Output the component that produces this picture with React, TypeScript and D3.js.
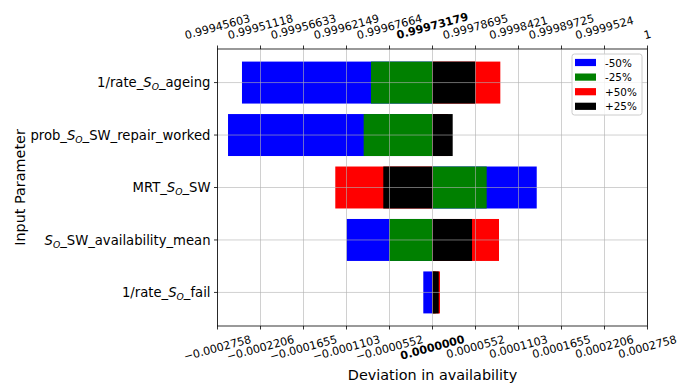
import React from "react";
import * as d3 from "d3";

// Categories from top to bottom: [text before S_O, text after S_O]
const categoryPre = ["1/rate_", "prob_", "MRT_", "", "1/rate_"];
const categoryPost = ["_ageing", "_SW_repair_worked", "_SW", "_SW_availability_mean", "_fail"];

// Deviations in availability per scenario (same order as categories)
const minus50 = [-0.0002444, -0.0002623, 0.0001337, -0.0001101, -0.0000118];
const minus25 = [-0.0000789, -0.0000883, 0.0000695, -0.0000554, 0.000004];
const plus50 = [0.000087, 0.00002, -0.0001247, 0.0000853, 0.0000096];
const plus25 = [0.0000549, 0.0000259, -0.0000631, 0.0000507, 0.000008];

const seriesNames = ["-50%", "-25%", "+50%", "+25%"];
const seriesColors = ["#0000ff", "#008000", "#ff0000", "#000000"];

const bottomTickLabels = [
  "−0.0002758", "−0.0002206", "−0.0001655", "−0.0001103", "−0.0000552",
  "0.0000000", "0.0000552", "0.0001103", "0.0001655", "0.0002206", "0.0002758",
];
const topTickLabels = [
  "0.99945603", "0.99951118", "0.99956633", "0.99962149", "0.99967664",
  "0.99973179", "0.99978695", "0.9998421", "0.99989725", "0.9999524", "1",
];
const boldTickIndex = 5;
const xLimit = 0.0002758;

const W = 693, H = 387;
const L = 217.5, R = 647.5, T = 49, B = 326;
const FONT = "DejaVu Sans";
const TICK_FS = 11.1;
const YTICK_FS = 13.2;
const LABEL_FS = 14.4;
const ROT = 15;

function textWidth(s: string, size: number, bold: boolean) {
  let w = 0;
  for (const c of s) {
    if (c >= "0" && c <= "9") w += bold ? 0.696 : 0.636;
    else if (c === ".") w += bold ? 0.38 : 0.318;
    else if (c === "−") w += 0.838;
    else w += 0.6;
  }
  return w * size;
}

export default function App() {
  const x = d3.scaleLinear().domain([-xLimit, xLimit]).range([L, R]);
  const n = categoryPre.length;
  const y = d3.scaleLinear().domain([-0.64, n - 1 + 0.64]).range([B, T]);
  const rowY = (i: number) => y(n - 1 - i);
  const barH = Math.abs(y(0.4) - y(-0.4));
  const tickVals = d3.range(11).map((i) => -xLimit + (i * 2 * xLimit) / 10);
  const series = [minus50, minus25, plus50, plus25];
  const th = Math.sin((ROT * Math.PI) / 180);
  const tc = Math.cos((ROT * Math.PI) / 180);
  const textH = TICK_FS * 1.164;

  return (
    <svg width={W} height={H} style={{ position: "absolute", left: 0, top: 0 }} fontFamily={FONT}>
      <rect x={0} y={0} width={W} height={H} fill="white" />
      {/* bars */}
      {series.map((vals, si) =>
        vals.map((v, i) => (
          <rect
            key={`b${si}-${i}`}
            x={Math.min(x(0), x(v))}
            y={rowY(i) - barH / 2}
            width={Math.abs(x(v) - x(0))}
            height={barH}
            fill={seriesColors[si]}
          />
        ))
      )}
      {/* grid */}
      {tickVals.map((t, i) => (
        <line key={`gx${i}`} x1={x(t)} x2={x(t)} y1={T} y2={B} stroke="#b0b0b0" strokeOpacity={0.6} strokeWidth={1} />
      ))}
      {categoryPre.map((_, i) => (
        <line key={`gy${i}`} x1={L} x2={R} y1={rowY(i)} y2={rowY(i)} stroke="#b0b0b0" strokeOpacity={0.6} strokeWidth={1} />
      ))}
      {/* spines */}
      <rect x={L} y={T} width={R - L} height={B - T} fill="none" stroke="#000" strokeWidth={0.8} />
      {/* bottom ticks */}
      {tickVals.map((t, i) => {
        const bold = i === boldTickIndex;
        const lab = bottomTickLabels[i];
        const w = textWidth(lab, TICK_FS, bold);
        const hh = w * th + textH * tc;
        const cx = x(t);
        const cy = B + 7 + hh / 2;
        return (
          <g key={`bt${i}`}>
            <line x1={cx} x2={cx} y1={B} y2={B + 3.5} stroke="#000" strokeWidth={0.8} />
            <text
              x={cx}
              y={cy}
              transform={`rotate(${-ROT},${cx},${cy})`}
              textAnchor="middle"
              dominantBaseline="central"
              fontSize={TICK_FS}
              fontWeight={bold ? "bold" : "normal"}
            >
              {lab}
            </text>
          </g>
        );
      })}
      {/* top ticks */}
      {tickVals.map((t, i) => {
        const bold = i === boldTickIndex;
        const lab = topTickLabels[i];
        const w = textWidth(lab, TICK_FS, bold);
        const hh = w * th + textH * tc;
        const cx = x(t);
        const cy = T - 7 - hh / 2;
        return (
          <g key={`tt${i}`}>
            <line x1={cx} x2={cx} y1={T} y2={T - 3.5} stroke="#000" strokeWidth={0.8} />
            <text
              x={cx}
              y={cy}
              transform={`rotate(${-ROT},${cx},${cy})`}
              textAnchor="middle"
              dominantBaseline="central"
              fontSize={TICK_FS}
              fontWeight={bold ? "bold" : "normal"}
            >
              {lab}
            </text>
          </g>
        );
      })}
      {/* y ticks */}
      {categoryPre.map((pre, i) => {
        const cy = rowY(i);
        return (
          <g key={`yt${i}`}>
            <line x1={L} x2={L - 3.5} y1={cy} y2={cy} stroke="#000" strokeWidth={0.8} />
            <text x={L - 7} y={cy + YTICK_FS * 0.36} textAnchor="end" fontSize={YTICK_FS}>
              {pre}
              <tspan fontStyle="italic">S</tspan>
              <tspan fontStyle="italic" fontSize={YTICK_FS * 0.7} dy={2.8}>O</tspan>
              <tspan dy={-2.8}>{categoryPost[i]}</tspan>
            </text>
          </g>
        );
      })}
      {/* axis labels */}
      <text x={(L + R) / 2} y={380} textAnchor="middle" fontSize={LABEL_FS}>
        Deviation in availability
      </text>
      <text
        x={20}
        y={(T + B) / 2}
        transform={`rotate(-90,20,${(T + B) / 2})`}
        textAnchor="middle"
        dominantBaseline="central"
        fontSize={LABEL_FS}
      >
        Input Parameter
      </text>
      {/* legend */}
      <g>
        <rect x={572} y={54} width={70} height={61} rx={2.5} fill="white" fillOpacity={0.8} stroke="#cccccc" strokeWidth={1} />
        {seriesNames.map((name, i) => {
          const cy = 62.5 + i * 14.6;
          return (
            <g key={`lg${i}`}>
              <rect x={575} y={cy - 3.6} width={21} height={7.2} fill={seriesColors[i]} />
              <text x={605} y={cy} dominantBaseline="central" fontSize={10.4}>
                {name}
              </text>
            </g>
          );
        })}
      </g>
    </svg>
  );
}
